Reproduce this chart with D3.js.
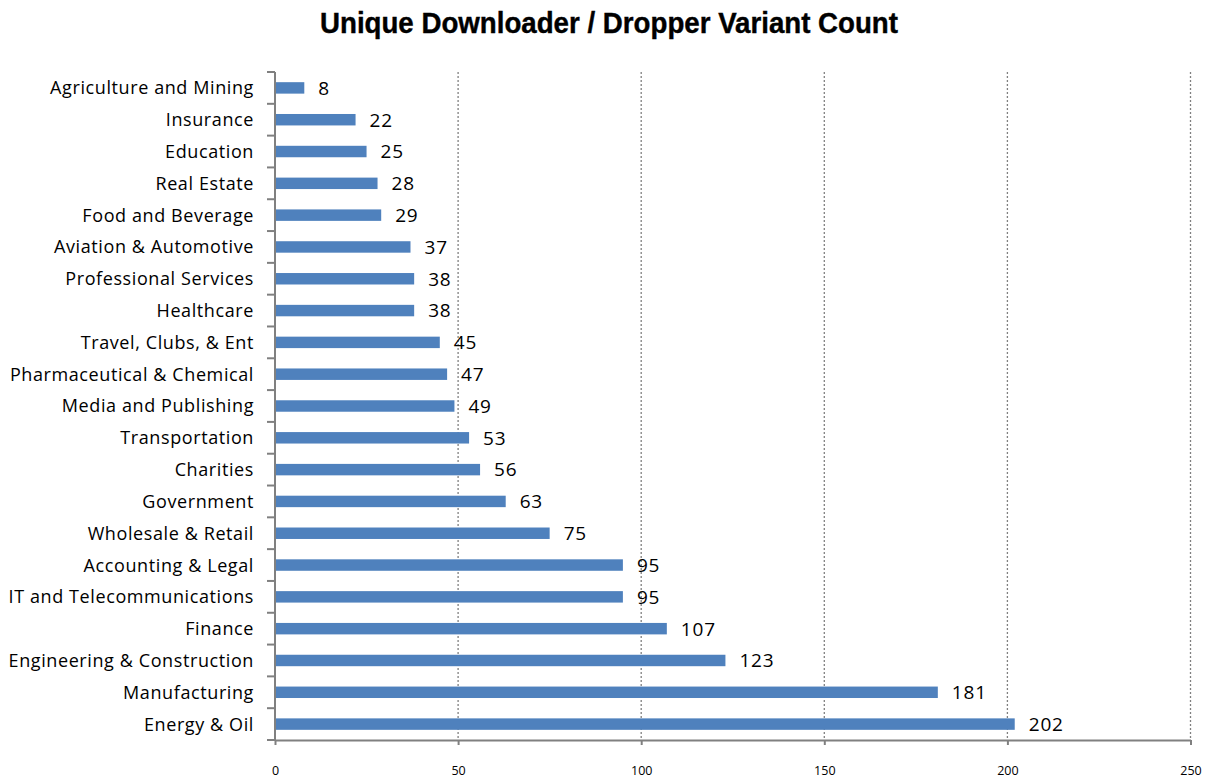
<!DOCTYPE html>
<html>
<head>
<meta charset="utf-8">
<script src="https://cdn.jsdelivr.net/npm/d3@7"></script>
<style>
  body { margin: 0; background: #fff; }
  svg { display: block; }
</style>
</head>
<body>
<svg id="chart" width="1210" height="780"></svg>
<script>
// Sectors, listed top to bottom
const categories = [
  "Agriculture and Mining", "Insurance", "Education", "Real Estate",
  "Food and Beverage", "Aviation & Automotive", "Professional Services",
  "Healthcare", "Travel, Clubs, & Ent", "Pharmaceutical & Chemical",
  "Media and Publishing", "Transportation", "Charities", "Government",
  "Wholesale & Retail", "Accounting & Legal", "IT and Telecommunications",
  "Finance", "Engineering & Construction", "Manufacturing", "Energy & Oil"
];
const variantCounts = [8, 22, 25, 28, 29, 37, 38, 38, 45, 47, 49, 53, 56, 63, 75, 95, 95, 107, 123, 181, 202];
const xTicks = [0, 50, 100, 150, 200, 250];
const chartTitle = "Unique Downloader / Dropper Variant Count";

const svg = d3.select("#chart");
const margin = { left: 275, right: 20, top: 72, bottom: 40 };
const plotW = 1190.5 - margin.left;
const plotH = 740 - margin.top;
const labelFont = "'Open Sans', sans-serif";

const x = d3.scaleLinear().domain([0, 250]).range([margin.left, margin.left + plotW]);
const y = d3.scaleBand().domain(categories).range([margin.top, margin.top + plotH]).paddingInner(0.64).paddingOuter(0.32);
const yb = d3.scaleBand().domain(categories).range([margin.top, margin.top + plotH]);

// Title
svg.append("text")
  .attr("x", 609).attr("y", 33)
  .attr("text-anchor", "middle")
  .attr("font-family", "'Liberation Sans Narrow', 'Liberation Sans', Arial, sans-serif")
  .attr("font-weight", "bold")
  .attr("font-size", 29)
  .attr("textLength", 578)
  .attr("lengthAdjust", "spacingAndGlyphs")
  .attr("stroke", "#000")
  .attr("stroke-width", 0.4)
  .attr("fill", "#000")
  .text(chartTitle);

// Dotted vertical gridlines
svg.append("g")
  .selectAll("line")
  .data(xTicks.slice(1))
  .join("line")
  .attr("x1", d => x(d)).attr("x2", d => x(d))
  .attr("y1", margin.top).attr("y2", margin.top + plotH)
  .attr("stroke", "#808080")
  .attr("stroke-width", 1.3)
  .attr("stroke-dasharray", "2,2");

// Bars
svg.append("g")
  .selectAll("rect")
  .data(categories)
  .join("rect")
  .attr("x", x(0))
  .attr("y", d => y(d))
  .attr("width", (d, i) => x(variantCounts[i]) - x(0))
  .attr("height", y.bandwidth())
  .attr("fill", "#4F81BD");

// Value labels
svg.append("g")
  .selectAll("text")
  .data(categories)
  .join("text")
  .attr("x", (d, i) => x(variantCounts[i]) + 14)
  .attr("y", d => yb(d) + yb.bandwidth() / 2)
  .attr("dy", "0.36em")
  .attr("font-family", labelFont)
  .attr("font-size", 19)
  .attr("letter-spacing", 0.8)
  .attr("fill", "#000")
  .text((d, i) => variantCounts[i]);

// Y axis: line, ticks on band edges, category labels
const yAxisG = svg.append("g");
yAxisG.append("line")
  .attr("x1", x(0)).attr("x2", x(0))
  .attr("y1", margin.top).attr("y2", margin.top + plotH)
  .attr("stroke", "#808080").attr("stroke-width", 2);
yAxisG.selectAll("line.tick")
  .data(categories.concat([null]))
  .join("line")
  .attr("class", "tick")
  .attr("x1", x(0) - 8).attr("x2", x(0))
  .attr("y1", (d, i) => margin.top + i * yb.step())
  .attr("y2", (d, i) => margin.top + i * yb.step())
  .attr("stroke", "#808080").attr("stroke-width", 2);
yAxisG.selectAll("text")
  .data(categories)
  .join("text")
  .attr("x", x(0) - 21)
  .attr("y", d => yb(d) + yb.bandwidth() / 2)
  .attr("dy", "0.36em")
  .attr("text-anchor", "end")
  .attr("font-family", labelFont)
  .attr("font-size", 18)
  .attr("letter-spacing", 0.6)
  .attr("fill", "#000")
  .text(d => d);

// X axis
const xAxis = d3.axisBottom(x).tickValues(xTicks).tickSize(5).tickPadding(21).tickSizeOuter(0);
const xg = svg.append("g")
  .attr("transform", `translate(0,${margin.top + plotH})`)
  .call(xAxis);
xg.select(".domain").attr("stroke", "#808080").attr("stroke-width", 2);
xg.selectAll(".tick line").attr("stroke", "#808080").attr("stroke-width", 2);
xg.selectAll(".tick text")
  .attr("font-family", labelFont)
  .attr("font-size", 12.5)
  .attr("fill", "#000");
</script>
</body>
</html>
